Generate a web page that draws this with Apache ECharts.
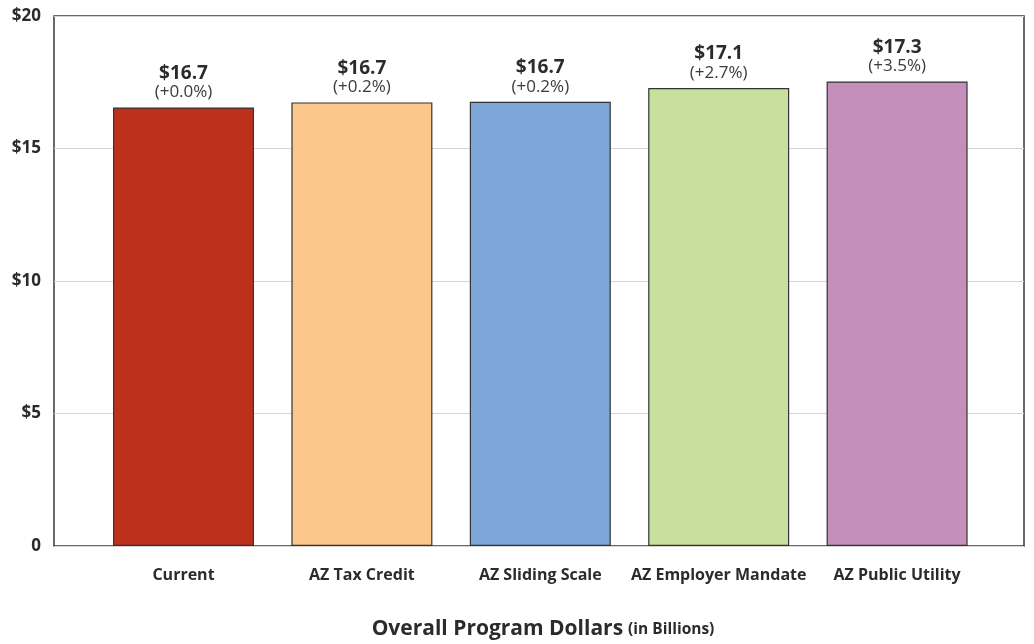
<!DOCTYPE html>
<html><head><meta charset="utf-8">
<script src="https://cdn.jsdelivr.net/npm/echarts@6/dist/echarts.min.js"></script>
<style>html,body{margin:0;padding:0;background:#fff}#c{width:1034px;height:644px}</style>
</head><body><div id="c"></div>
<script>
const categories = ['Current', 'AZ Tax Credit', 'AZ Sliding Scale', 'AZ Employer Mandate', 'AZ Public Utility'];
const values = [16.55, 16.74, 16.76, 17.28, 17.53];
const valueLabels = ['$16.7', '$16.7', '$16.7', '$17.1', '$17.3'];
const changeLabels = ['(+0.0%)', '(+0.2%)', '(+0.2%)', '(+2.7%)', '(+3.5%)'];
const colors = ['#BD311C', '#FBC78B', '#7DA7D9', '#C7E09E', '#C48FBA'];
const yTicks = {0: '0', 5: '$5', 10: '$10', 15: '$15', 20: '$20'};

const FONT = '"Open Sans", "Noto Sans", sans-serif';
const chart = echarts.init(document.getElementById('c'));
chart.setOption({
  backgroundColor: '#fff',
  animation: false,
  title: {
    text: '{a|Overall Program Dollars} {b|(in Billions)}',
    left: 538, top: 614, textAlign: 'center',
    textStyle: { rich: {
      a: { fontFamily: FONT, fontWeight: 'bold', fontSize: 21, color: '#2b2b2b' },
      b: { fontFamily: FONT, fontWeight: 'bold', fontSize: 15.5, color: '#2b2b2b' }
    }}
  },
  grid: [
    { left: 54, top: 16, width: 970, height: 530, show: true, borderColor: '#3a3a3a', borderWidth: 1.5, backgroundColor: 'transparent' },
    { left: 94.3, top: 16, width: 892, height: 530 }
  ],
  xAxis: [
    { type: 'category', gridIndex: 0, data: categories, show: false },
    { type: 'category', gridIndex: 1, data: categories,
      axisLine: { show: false }, axisTick: { show: false },
      axisLabel: { margin: 21, fontFamily: FONT, fontWeight: 'bold', fontSize: 16, color: '#2b2b2b', interval: 0 } }
  ],
  yAxis: [
    { type: 'value', gridIndex: 0, min: 0, max: 20, interval: 5,
      axisLine: { show: false }, axisTick: { show: false },
      splitLine: { lineStyle: { color: '#d4d4d4', width: 1 } },
      axisLabel: { margin: 13, fontFamily: FONT, fontWeight: 'bold', fontSize: 17, color: '#2b2b2b',
        formatter: v => yTicks[v] } },
    { type: 'value', gridIndex: 1, min: 0, max: 20, interval: 5, show: false, splitLine: { show: false } }
  ],
  series: [{
    type: 'bar', xAxisIndex: 1, yAxisIndex: 1,
    barWidth: 141,
    data: values.map((v, i) => ({ value: v, itemStyle: { color: colors[i] } })),
    itemStyle: { borderColor: '#333', borderWidth: 1.2 },
    label: {
      show: true, position: 'top', distance: 6,
      formatter: p => '{a|' + valueLabels[p.dataIndex] + '}\n{b|' + changeLabels[p.dataIndex] + '}',
      rich: {
        a: { fontFamily: FONT, fontWeight: 'bold', fontSize: 19, color: '#2b2b2b', lineHeight: 20, align: 'center' },
        b: { fontFamily: FONT, fontSize: 17, color: '#3a3a3a', lineHeight: 18, align: 'center' }
      }
    }
  }]
});
</script></body></html>
